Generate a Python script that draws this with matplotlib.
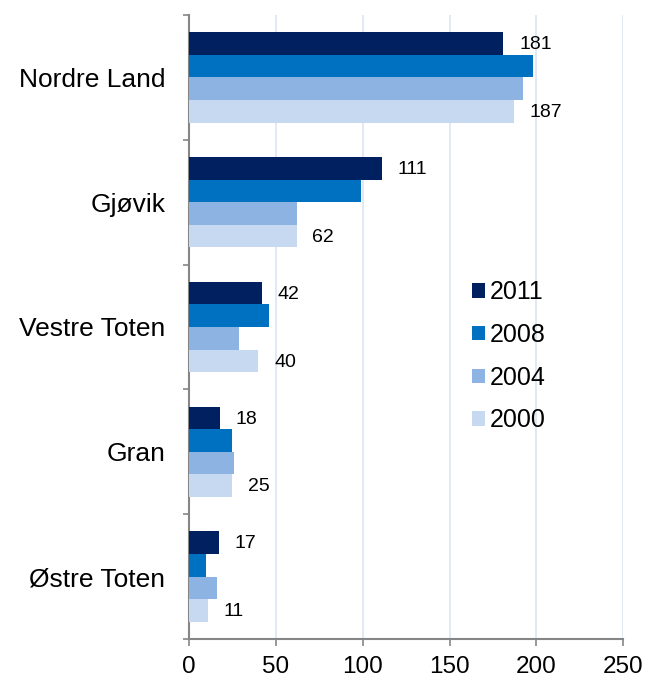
import numpy as np
import matplotlib.pyplot as plt

plt.rcParams['font.family'] = ['Liberation Sans', 'DejaVu Sans']

kommuner = ['Nordre Land', 'Gjøvik', 'Vestre Toten', 'Gran', 'Østre Toten']
aar = ['2011', '2008', '2004', '2000']
v2011 = [181, 111, 42, 18, 17]
v2008 = [198, 99, 46, 25, 10]
v2004 = [192, 62, 29, 26, 16]
v2000 = [187, 62, 40, 25, 11]
farger = ['#002060', '#0070C0', '#8DB3E2', '#C6D9F1']

serier = [v2011, v2008, v2004, v2000]

fig = plt.figure(figsize=(6.49, 6.81), dpi=100)
ax = fig.add_axes([0.2912, 0.0617, 0.6692, 0.9163])

y = np.arange(len(kommuner))
h = 0.181
for k, (verdier, farge, navn) in enumerate(zip(serier, farger, aar)):
    pos = y - 1.5 * h + k * h
    ax.barh(pos, verdier, height=h, color=farge, label=navn, zorder=3)
    if navn in ('2011', '2000'):
        for p, v in zip(pos, verdier):
            ax.text(v + 9, p + 0.01, str(v), va='center', ha='left', fontsize=14)

ax.set_xlim(0, 250)
ax.set_ylim(len(kommuner) - 0.5, -0.5)
ax.set_xticks(np.arange(0, 251, 50))
ax.set_yticks(y)
ax.set_yticklabels(kommuner, fontsize=19)
ax.set_yticks(np.arange(-0.5, len(kommuner), 1), minor=True)
ax.tick_params(axis='y', which='major', length=0, pad=17)
ax.tick_params(axis='y', which='minor', length=4.5, color='#868686', width=1.2)
ax.tick_params(axis='x', labelsize=17.5, length=5, color='#868686', width=1.2, pad=7)
ax.grid(axis='x', color='#dce6f2', linewidth=1.2, zorder=0)
for s in ['top', 'right']:
    ax.spines[s].set_visible(False)
for s in ['left', 'bottom']:
    ax.spines[s].set_color('#868686')
    ax.spines[s].set_linewidth(1.5)

ax.legend(loc='upper left', bbox_to_anchor=(0.651, 0.575), frameon=False,
          fontsize=18, handlelength=0.52, handleheight=0.52, borderpad=0,
          borderaxespad=0, handletextpad=0.22, labelspacing=0.75)

plt.savefig('out.png')
